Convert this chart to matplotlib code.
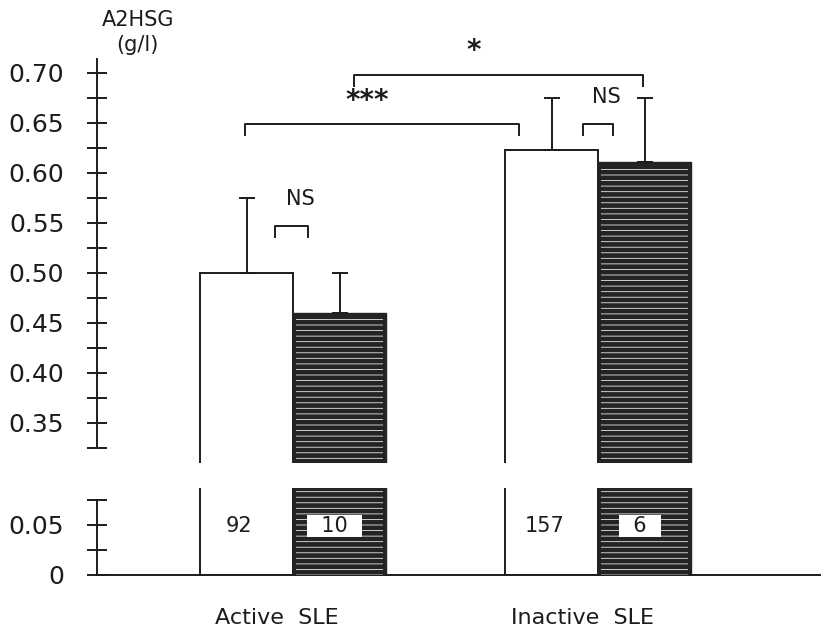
import matplotlib
matplotlib.use("Agg")
import matplotlib.pyplot as plt
from matplotlib.ticker import MultipleLocator, FuncFormatter

# data
groups = ["Active  SLE", "Inactive  SLE"]
white_means = [0.50, 0.623]
white_err = [0.075, 0.052]
dark_means = [0.46, 0.611]
dark_err = [0.040, 0.064]
white_n = ["92", "157"]
dark_n = ["  10  ", "  6  "]

# significance brackets: (x left, x right, height, label, label x, label y)
brackets = [
    (-0.19, 0.16, 0.547, "NS", 0.08, 0.574),
    (-0.52, 2.43, 0.649, "***", 0.80, 0.672),
    (0.66, 3.76, 0.698, "*", 1.94, 0.722),
    (3.12, 3.44, 0.649, "NS", 3.37, 0.676),
]

group_pos = [0.0, 3.28]
ink = "#1c1c1c"
plt.rcParams["hatch.linewidth"] = 0.6

W, H = 821, 629
fig = plt.figure(figsize=(W / 100, H / 100), dpi=100)


def box(l, t, r, b):
    return [l / W, 1 - b / H, (r - l) / W, (b - t) / H]


ax_top = fig.add_axes(box(97, 53, 821, 463))
ax_bot = fig.add_axes(box(97, 488, 821, 575))

xw = [g - 0.5 for g in group_pos]
xd = [g + 0.5 for g in group_pos]

for ax in (ax_top, ax_bot):
    ax.bar(xw, white_means, width=1.0, color="white", edgecolor=ink, linewidth=1.4, zorder=2)
    ax.bar(xd, dark_means, width=1.0, color="#232323", edgecolor="#232323", linewidth=1.0, zorder=2)
    ax.bar(xd, [m - 0.006 for m in dark_means], width=0.93, color="none", edgecolor="#e8e8e8",
           hatch="---", linewidth=0, zorder=3)
    ax.set_xlim(-2.108, 5.677)
    for s in ("top", "right"):
        ax.spines[s].set_visible(False)
    ax.spines["left"].set_linewidth(1.4)
    ax.spines["left"].set_color(ink)
    ax.tick_params(axis="y", which="major", direction="inout", length=15, width=1.4,
                   color=ink, labelsize=18, labelcolor=ink, pad=16)
    ax.tick_params(axis="y", which="minor", direction="inout", length=14, width=1.4, color=ink)
    ax.yaxis.set_minor_locator(MultipleLocator(0.025))
    ax.yaxis.set_major_locator(MultipleLocator(0.05))

# error bars (upper only)
ax_top.errorbar(xw, white_means, yerr=[[0, 0], white_err], fmt="none", ecolor=ink,
                elinewidth=1.4, capsize=6, capthick=1.4, zorder=4)
ax_top.errorbar(xd, dark_means, yerr=[[0, 0], dark_err], fmt="none", ecolor=ink,
                elinewidth=1.4, capsize=6, capthick=1.4, zorder=4)

# top panel
ax_top.set_ylim(0.31, 0.72)
ax_top.spines["left"].set_bounds(0.325, 0.714)
ax_top.spines["bottom"].set_visible(False)
ax_top.set_xticks([])
ax_top.yaxis.set_major_formatter(FuncFormatter(lambda v, p: f"{v:.2f}"))

for x1, x2, y, lab, lx, ly in brackets:
    ax_top.plot([x1, x1, x2, x2], [y - 0.011, y, y, y - 0.011], color=ink, lw=1.4,
                clip_on=False, zorder=5)
    if "*" in lab:
        ax_top.text(lx, ly, lab, ha="center", va="center", fontsize=20,
                    fontweight="bold", color=ink)
    else:
        ax_top.text(lx, ly, lab, ha="center", va="center", fontsize=15, color=ink)

# bottom panel
ax_bot.set_ylim(0, 0.087)
ax_bot.spines["left"].set_bounds(0, 0.075)
ax_bot.spines["bottom"].set_linewidth(1.4)
ax_bot.spines["bottom"].set_color(ink)
ax_bot.yaxis.set_major_formatter(FuncFormatter(lambda v, p: "0" if v == 0 else f"{v:.2f}"))
ax_bot.set_xticks([g - 0.17 for g in group_pos])
ax_bot.set_xticklabels(groups)
ax_bot.tick_params(axis="x", length=0, labelsize=16, labelcolor=ink, pad=24)

for x, n in zip(xw, white_n):
    ax_bot.text(x - 0.08, 0.049, n, ha="center", va="center", fontsize=15, color=ink, zorder=6)
for x, n in zip(xd, dark_n):
    ax_bot.text(x - 0.05, 0.049, n, ha="center", va="center", fontsize=15, color=ink, zorder=6,
                bbox=dict(facecolor="white", edgecolor="none", boxstyle="square,pad=0.05"))

fig.text(138 / W, 1 - 20 / H, "A2HSG", ha="center", va="center", fontsize=15, color=ink)
fig.text(137 / W, 1 - 45 / H, "(g/l)", ha="center", va="center", fontsize=15, color=ink)

fig.savefig("out.png", dpi=100, facecolor="white")
